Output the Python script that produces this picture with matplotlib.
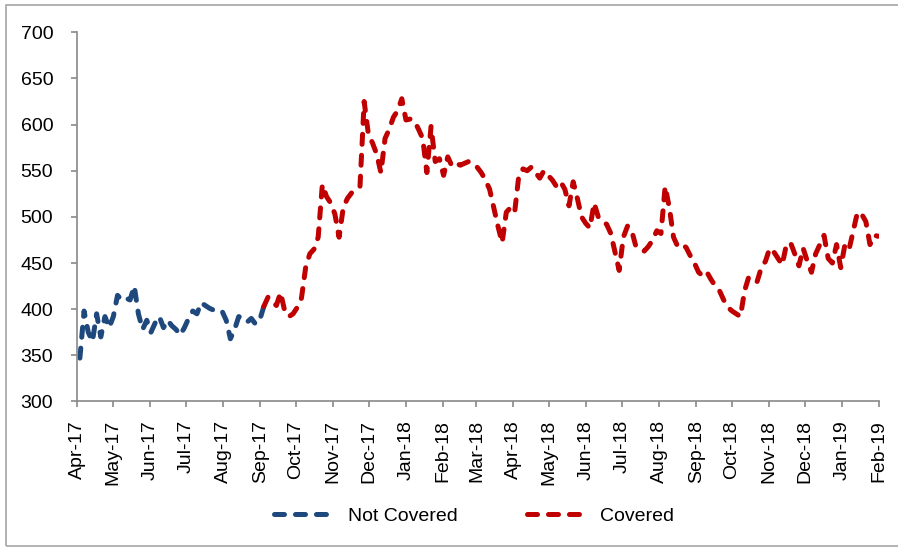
import pandas as pd
import matplotlib.pyplot as plt
import matplotlib.dates as mdates
from matplotlib.patches import Rectangle

plt.rcParams['font.family'] = ['Liberation Sans', 'DejaVu Sans']
plt.rcParams['lines.scale_dashes'] = False

# price series, sampled twice a week starting 3 Apr 2017
start = '2017-04-03'
not_covered = [347, 398, 375, 365, 395, 370, 392, 380, 392, 415, 410, 412, 410, 425, 395,
               378, 388, 375, 385, 392, 380, 388, 382, 378, 372, 380, 390, 398, 395, 407,
               404, 401, 399, 398, 398, 388, 368, 378, 392, 390, 386, 390, 384, 388, 403]
covered = [403, 413, 408, 404, 418, 398, 392, 395, 402, 412, 445, 460, 465, 478, 535,
           522, 515, 503, 478, 510, 520, 526, 530, 533, 625, 590, 580, 568, 548, 585,
           595, 608, 615, 628, 605, 606, 604, 595, 585, 548, 598, 560, 563, 545, 565,
           555, 558, 556, 558, 560, 558, 554, 548, 540, 530, 510, 490, 472, 505, 510,
           505, 545, 552, 550, 554, 548, 542, 550, 545, 540, 533, 538, 530, 512, 538,
           520, 500, 493, 488, 515, 500, 495, 492, 482, 462, 442, 478, 490, 485, 468,
           465, 463, 468, 475, 485, 482, 533, 510, 478, 468, 470, 467, 458, 450, 440,
           436, 440, 432, 425, 420, 410, 402, 398, 395, 392, 420, 435, 432, 430, 445,
           452, 466, 462, 455, 448, 470, 472, 460, 447, 466, 452, 440, 460, 470, 480,
           455, 450, 470, 445, 470, 465, 485, 505, 503, 495, 470, 480, 479]

dates = pd.date_range(start, periods=len(not_covered) + len(covered) - 1, freq='84h')
dates_nc = dates[:len(not_covered)]
dates_c = dates[len(not_covered) - 1:]

yticks = [300, 350, 400, 450, 500, 550, 600, 650, 700]

fig = plt.figure(figsize=(8.98, 5.47), dpi=100)
ax = fig.add_axes([0.0863, 0.266, 0.8925, 0.675])

dash = (7.2, 7.9)
ax.plot(dates_nc, not_covered, color='#1F497D', lw=3.6, dashes=dash,
        dash_capstyle='round', solid_capstyle='round', label='Not Covered')
ax.plot(dates_c, covered, color='#C00000', lw=3.6, dashes=dash,
        dash_capstyle='round', solid_capstyle='round', label='Covered')

ax.set_ylim(300, 700)
ax.set_yticks(yticks)
ax.set_xlim(pd.Timestamp('2017-04-01'), pd.Timestamp('2019-02-01'))
ax.xaxis.set_major_locator(mdates.MonthLocator())
ax.xaxis.set_major_formatter(mdates.DateFormatter('%b-%y'))

for s in ['top', 'right']:
    ax.spines[s].set_visible(False)
for s in ['left', 'bottom']:
    ax.spines[s].set_color('#898989')
    ax.spines[s].set_linewidth(1.2)

ax.tick_params(axis='y', length=4.5, width=1.2, color='#898989', labelsize=14, pad=13)
ax.tick_params(axis='x', length=4.5, width=1.2, color='#898989', labelsize=14, pad=9,
               labelrotation=90)

fig.legend(loc='center', bbox_to_anchor=(0.528, 0.057), ncol=2, frameon=False,
           fontsize=14, handlelength=3.1, handletextpad=0.67, columnspacing=3.55)

# thin grey frame round the whole chart
fig.patches.append(Rectangle((5.5 / 898, 1.5 / 547), 1.0, 1 - 6.5 / 547,
                             transform=fig.transFigure, fill=False,
                             edgecolor='#a6a6a6', lw=1.2))

plt.savefig('out.png', dpi=100)
